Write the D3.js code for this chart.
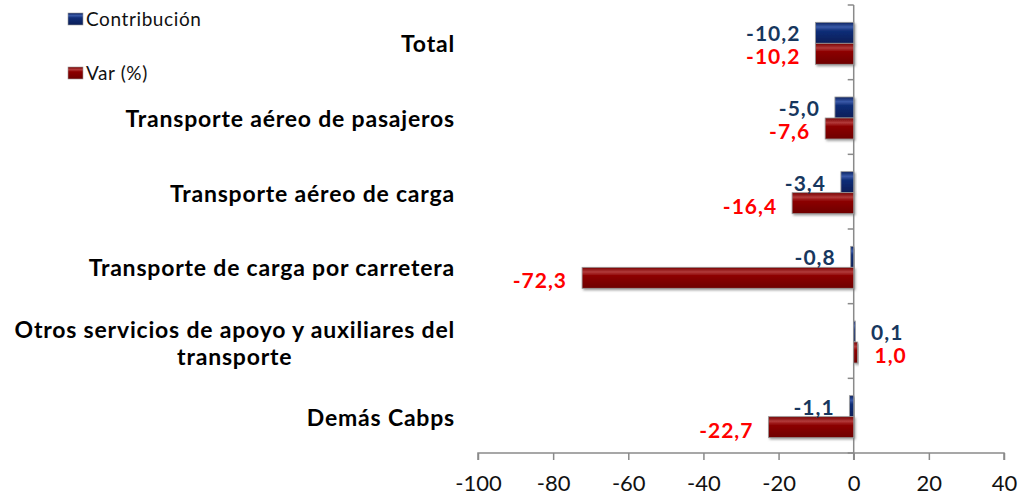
<!DOCTYPE html>
<html>
<head>
<meta charset="utf-8">
<script src="https://cdn.jsdelivr.net/npm/d3@7"></script>
<style>
  body { margin: 0; background: #fff; }
  svg { display: block; }
</style>
</head>
<body>
<div id="chart"></div>
<script>
const categories = [
  ["Total"],
  ["Transporte aéreo de pasajeros"],
  ["Transporte aéreo de carga"],
  ["Transporte de carga por carretera"],
  ["Otros servicios de apoyo y auxiliares del", "transporte"],
  ["Demás Cabps"]
];
const contribucion = [-10.2, -5.0, -3.4, -0.8, 0.1, -1.1];
const variacion = [-10.2, -7.6, -16.4, -72.3, 1.0, -22.7];
const seriesNames = ["Contribución", "Var (%)"];
const xTicks = [-100, -80, -60, -40, -20, 0, 20, 40];

const width = 1021;
const height = 497;

const svg = d3.select("#chart").append("svg")
  .attr("width", width)
  .attr("height", height);

const defs = svg.append("defs");

// glossy gradients for the bars
function gradient(id, stops) {
  const g = defs.append("linearGradient")
    .attr("id", id)
    .attr("x1", 0).attr("y1", 0).attr("x2", 0).attr("y2", 1);
  stops.forEach(([o, c]) => g.append("stop").attr("offset", o).attr("stop-color", c));
}
gradient("gBlue", [["0%", "#0b2160"], ["22%", "#3a5aa8"], ["40%", "#112e78"], ["100%", "#0a1d57"]]);
gradient("gRed", [["0%", "#760000"], ["22%", "#b23a3a"], ["40%", "#8c0000"], ["100%", "#6e0000"]]);

defs.append("filter").attr("id", "shadow")
  .attr("x", "-20%").attr("y", "-20%").attr("width", "140%").attr("height", "160%")
  .append("feDropShadow")
  .attr("dx", 1.5).attr("dy", 1.5).attr("stdDeviation", 1)
  .attr("flood-color", "#777").attr("flood-opacity", 0.7);

const x = d3.scaleLinear().domain([-100, 40]).range([478, 1004]);

const y = d3.scaleBand()
  .domain(d3.range(categories.length))
  .range([5, 453])
  .paddingInner(0.4375)
  .paddingOuter(0.4375 / 2);

const ySub = d3.scaleBand().domain([0, 1]).range([0, y.bandwidth()]);

const blueLabel = "#17375e";
const redLabel = "#ff0000";
const axisColor = "#8a8a8a";
const labelFont = "Lato, 'Open Sans', sans-serif";

// horizontal axis
const xAxis = svg.append("g")
  .attr("transform", "translate(0,453)")
  .call(d3.axisBottom(x).tickValues(xTicks).tickSize(7).tickPadding(15).tickFormat(d3.format("d")));
xAxis.select(".domain").attr("stroke", axisColor).attr("stroke-width", 1.5)
  .attr("d", `M${x(-100)},7V0H${x(40)}V7`);
xAxis.selectAll(".tick line").attr("stroke", axisColor).attr("stroke-width", 1.5);
xAxis.selectAll(".tick text")
  .attr("fill", "#111")
  .style("font-family", labelFont)
  .style("font-size", "22px")
  .text(d => d < 0 ? "-" + Math.abs(d) : d);

// vertical category axis at zero
const zero = x(0);
svg.append("line")
  .attr("x1", zero).attr("x2", zero)
  .attr("y1", 5).attr("y2", 460)
  .attr("stroke", axisColor).attr("stroke-width", 1.5);
const boundaries = d3.range(categories.length + 1).map(i => 5 + i * y.step());
svg.selectAll(".ytick").data(boundaries).join("line")
  .attr("class", "ytick")
  .attr("x1", zero - 6).attr("x2", zero)
  .attr("y1", d => d).attr("y2", d => d)
  .attr("stroke", axisColor).attr("stroke-width", 1.5);

// bars
const rows = categories.map((c, i) => ({ i, vals: [contribucion[i], variacion[i]] }));
const bars = [];
rows.forEach(r => r.vals.forEach((v, s) => bars.push({ i: r.i, s, v })));

svg.append("g").selectAll("rect").data(bars).join("rect")
  .attr("x", d => Math.min(x(0), x(d.v)))
  .attr("y", d => y(d.i) + ySub(d.s) + 1)
  .attr("width", d => Math.max(Math.abs(x(d.v) - x(0)), 1.5))
  .attr("height", ySub.bandwidth())
  .attr("fill", d => d.s === 0 ? "url(#gBlue)" : "url(#gRed)")
  .attr("stroke", "#9a9a9a")
  .attr("stroke-width", 0.8)
  .attr("filter", "url(#shadow)");

// value labels
const fmt = v => v.toFixed(1).replace(".", ",");
svg.append("g").selectAll("text").data(bars).join("text")
  .attr("x", d => d.v < 0 ? x(d.v) - 15 : x(d.v) + 17)
  .attr("y", d => y(d.i) + ySub(d.s) + ySub.bandwidth() / 2 + (d.s === 0 ? 2 : 4))
  .attr("dy", "0.35em")
  .attr("text-anchor", d => d.v < 0 ? "end" : "start")
  .attr("fill", d => d.s === 0 ? blueLabel : redLabel)
  .style("font-family", labelFont)
  .style("font-weight", "bold")
  .style("font-size", "21px")
  .style("letter-spacing", "1px")
  .text(d => fmt(d.v));

// category labels (right aligned block, lines centred on each other)
const catG = svg.append("g");
categories.forEach((lines, i) => {
  const cy = y(i) + y.bandwidth() / 2 + 2;
  const lh = 27;
  const t = catG.append("text")
    .attr("fill", "#000")
    .style("font-family", labelFont)
    .style("font-weight", "bold")
    .style("font-size", "23px")
    .style("letter-spacing", "0.8px");
  lines.forEach((l, k) => {
    t.append("tspan")
      .attr("y", cy + (k - (lines.length - 1) / 2) * lh)
      .attr("dy", "0.35em")
      .text(l);
  });
  // measure widest line and centre lines within the block
  const spans = t.selectAll("tspan").nodes();
  const widths = spans.map(n => n.getComputedTextLength());
  const maxW = d3.max(widths);
  const right = 455;
  spans.forEach(n => {
    d3.select(n).attr("x", right - maxW / 2).attr("text-anchor", "middle");
  });
});

// legend
const legend = svg.append("g");
seriesNames.forEach((name, s) => {
  const ly = 13 + s * 54;
  legend.append("rect")
    .attr("x", 68).attr("y", ly)
    .attr("width", 15).attr("height", 12)
    .attr("fill", s === 0 ? "url(#gBlue)" : "url(#gRed)")
    .attr("stroke", "#9a9a9a").attr("stroke-width", 0.6);
  legend.append("text")
    .attr("x", 86).attr("y", ly + 6)
    .attr("dy", "0.35em")
    .attr("fill", "#111")
    .style("font-family", labelFont)
    .style("font-size", "19px")
    .style("letter-spacing", "0.6px")
    .text(name);
});
</script>
</body>
</html>
